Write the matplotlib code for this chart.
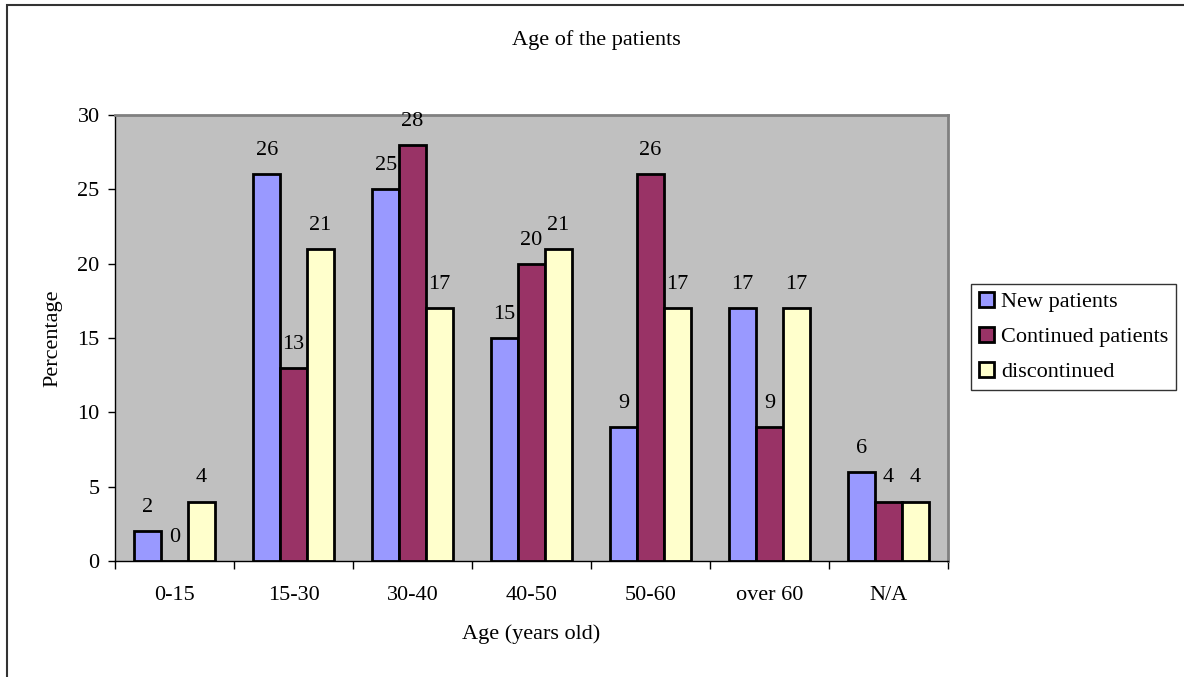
import numpy as np
import matplotlib.pyplot as plt
from matplotlib.patches import Rectangle

plt.rcParams['font.family'] = ['Liberation Serif', 'DejaVu Serif']

categories = ['0-15', '15-30', '30-40', '40-50', '50-60', 'over 60', 'N/A']
new_patients = [2, 26, 25, 15, 9, 17, 6]
continued = [0, 13, 28, 20, 26, 9, 4]
discontinued = [4, 21, 17, 21, 17, 17, 4]

series = [('New patients', new_patients, '#9999FF'),
          ('Continued patients', continued, '#993366'),
          ('discontinued', discontinued, '#FFFFCC')]

W, H = 1184, 677
fig = plt.figure(figsize=(W / 100, H / 100), dpi=100)
ax = fig.add_axes([115 / W, 1 - 561 / H, 833 / W, 446 / H])
ax.set_facecolor('#C0C0C0')

x = np.arange(len(categories))
bw = 0.225
for i, (label, vals, color) in enumerate(series):
    pos = x + (i - 1) * bw
    ax.bar(pos, vals, bw, color=color, edgecolor='black', linewidth=2,
           label=label, zorder=3)
    for px, v in zip(pos, vals):
        ax.annotate(str(v), (px, v), xytext=(0, 17),
                    textcoords='offset points', ha='center', va='center',
                    fontsize=16)

ax.set_xlim(-0.5, len(categories) - 0.5)
ax.set_ylim(0, 30)
ax.set_yticks(range(0, 31, 5))
ax.set_xticks(x)
ax.set_xticklabels(categories, fontsize=16)
ax.set_xticks(np.arange(-0.5, len(categories)), minor=True)
ax.tick_params(axis='x', which='major', length=0, pad=18)
ax.tick_params(axis='x', which='minor', length=6, width=1, direction='out')
ax.tick_params(axis='y', labelsize=16, length=5, width=1, direction='out',
               pad=6)

for side in ['top', 'right']:
    ax.spines[side].set_color('#808080')
    ax.spines[side].set_linewidth(2)
for side in ['left', 'bottom']:
    ax.spines[side].set_color('black')
    ax.spines[side].set_linewidth(1)

ax.set_xlabel('Age (years old)', fontsize=16, labelpad=14)
ax.set_ylabel('Percentage', fontsize=16, labelpad=11)

fig.text(596 / W, 1 - 40 / H, 'Age of the patients', ha='center',
         va='center', fontsize=16)

leg = ax.legend(loc='center left', bbox_to_anchor=(971 / W, 1 - 337 / H),
                bbox_transform=fig.transFigure, fontsize=16, frameon=True,
                fancybox=False, edgecolor='black', borderpad=0.35,
                handlelength=0.7, handleheight=0.7, handletextpad=0.3,
                labelspacing=0.65, borderaxespad=0)
leg.get_frame().set_linewidth(1)

fig.patches.append(Rectangle((7 / W, -0.1), 1.2, 1 - 5 / H + 0.1,
                             transform=fig.transFigure, fill=False,
                             edgecolor='#333333', linewidth=1.5))

fig.savefig('out.png', dpi=100)
